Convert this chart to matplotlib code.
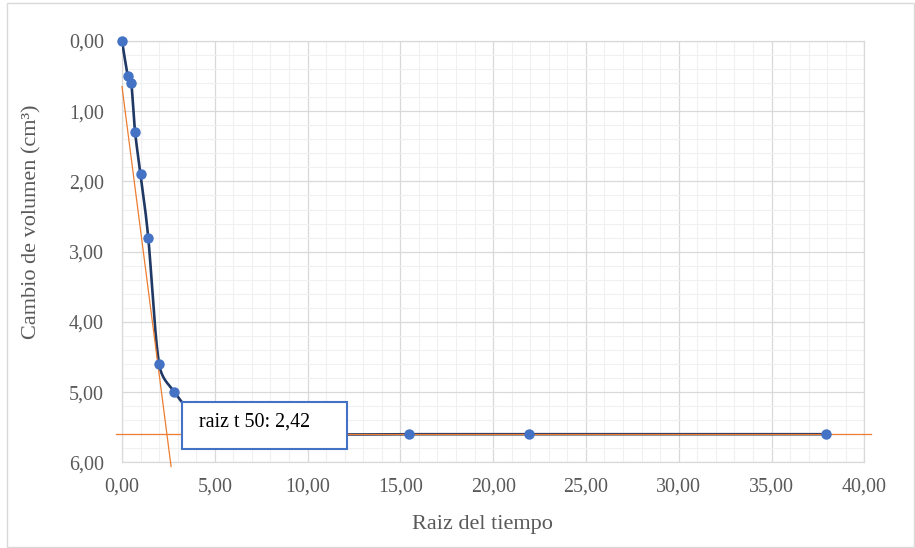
import numpy as np
import matplotlib
matplotlib.use("Agg")
import matplotlib.pyplot as plt
from matplotlib.patches import Rectangle
from matplotlib.ticker import MultipleLocator, FuncFormatter

plt.rcParams['font.family'] = ['Liberation Serif', 'DejaVu Serif']

# Square root of elapsed time (min^0.5) and measured volume change (cm³)
raiz_tiempo = [0.0, 0.316, 0.5, 0.707, 1.0, 1.414, 2.0, 2.828,
               3.873, 5.477, 7.746, 10.954, 15.49, 21.91, 37.95]
cambio_volumen = [0.0, 0.5, 0.6, 1.3, 1.9, 2.8, 4.6, 5.0,
                  5.3, 5.45, 5.55, 5.6, 5.6, 5.6, 5.6]

# Construction lines for the square-root-of-time method
raiz_t50 = 2.42          # intersection of the initial tangent with the final level
volumen_final = 5.6
volumen_inicial_tangente = 0.65

x_ticks = [0, 5, 10, 15, 20, 25, 30, 35, 40]
y_ticks = [0, 1, 2, 3, 4, 5, 6]

GRIS_TEXTO = '#595959'
AZUL_MARCA = '#4472C4'
AZUL_LINEA = '#203864'
NARANJA = '#ED7D31'


def curva_suave(ax, x, y, n=40):
    """Spreadsheet-style smoothed line: cubic Bezier segments whose control
    points follow the neighbouring points, limited to half a segment length
    (computed in display space)."""
    p = ax.transData.transform(np.column_stack([x, y]).astype(float))
    ext = np.vstack([p[0], p, p[-1]])
    t = np.linspace(0, 1, n)[:, None]
    out = []
    f = 1.0 / 6.0
    for i in range(len(p) - 1):
        p0, p1, p2, p3 = ext[i], ext[i + 1], ext[i + 2], ext[i + 3]
        d02 = np.hypot(*(p2 - p0))
        d12 = np.hypot(*(p2 - p1))
        d13 = np.hypot(*(p3 - p1))
        f1 = f if d02 * f < d12 / 2 or d02 == 0 else d12 / d02 / 2
        f2 = f if d13 * f < d12 / 2 or d13 == 0 else d12 / d13 / 2
        c1 = p1 + f1 * (p2 - p0)
        c2 = p2 - f2 * (p3 - p1)
        seg = ((1 - t) ** 3) * p1 + 3 * ((1 - t) ** 2) * t * c1 \
            + 3 * (1 - t) * t ** 2 * c2 + t ** 3 * p2
        out.append(seg if i == 0 else seg[1:])
    s = ax.transData.inverted().transform(np.vstack(out))
    return s[:, 0], s[:, 1]


fig = plt.figure(figsize=(9.15, 5.48), dpi=100)
W, H = 915, 548

# chart outline
fig.patches.append(Rectangle((6.5 / W, 1.0 / H), (913.5 - 6.5) / W, (547 - 3) / H,
                             transform=fig.transFigure, fill=False,
                             edgecolor='#D9D9D9', linewidth=1.0))

ax_l, ax_r, ax_t, ax_b = 122, 864.3, 41, 462.3
ax = fig.add_axes([ax_l / W, 1 - ax_b / H, (ax_r - ax_l) / W, (ax_b - ax_t) / H])

ax.set_xlim(0, 40)
ax.set_ylim(6, 0)

ax.xaxis.set_minor_locator(MultipleLocator(1))
ax.yaxis.set_minor_locator(MultipleLocator(0.2))
ax.set_xticks(x_ticks)
ax.set_yticks(y_ticks)

fmt = FuncFormatter(lambda v, _: f"{v:.2f}".replace('.', ','))
ax.xaxis.set_major_formatter(fmt)
ax.yaxis.set_major_formatter(fmt)

ax.grid(which='major', color='#D9D9D9', linewidth=0.9)
ax.grid(which='minor', color='#F0F0F0', linewidth=0.8)
ax.set_axisbelow(True)
for s in ax.spines.values():
    s.set_color('#D9D9D9')
    s.set_linewidth(0.9)

ax.tick_params(which='both', length=0, labelsize=14.4, labelcolor=GRIS_TEXTO)
ax.tick_params(axis='y', pad=13)
ax.tick_params(axis='x', pad=11)

# smoothed consolidation curve
xs, ys = curva_suave(ax, raiz_tiempo, cambio_volumen)
ax.plot(xs, ys, color=AZUL_LINEA, linewidth=1.9, zorder=3, solid_capstyle='round')

# initial tangent and final level
pendiente = (volumen_final - volumen_inicial_tangente) / raiz_t50
x_fin = (6.06 - volumen_inicial_tangente) / pendiente
ax.plot([0, x_fin], [volumen_inicial_tangente, volumen_inicial_tangente + pendiente * x_fin],
        color=NARANJA, linewidth=0.9, zorder=4, clip_on=False)
ax.plot([-0.31, 40.37], [volumen_final, volumen_final],
        color=NARANJA, linewidth=0.9, zorder=4, clip_on=False)

# measured points
ax.plot(raiz_tiempo, cambio_volumen, linestyle='none', marker='o', markersize=6.5,
        markerfacecolor=AZUL_MARCA, markeredgecolor=AZUL_MARCA, zorder=5, clip_on=False)

# result box
bx0 = (181.7 - ax_l) / (ax_r - ax_l)
bx1 = (347.3 - ax_l) / (ax_r - ax_l)
by0 = (ax_b - 449.3) / (ax_b - ax_t)
by1 = (ax_b - 401.7) / (ax_b - ax_t)
ax.add_patch(Rectangle((bx0, by0), bx1 - bx0, by1 - by0, transform=ax.transAxes,
                       facecolor='white', edgecolor=AZUL_MARCA, linewidth=1.5, zorder=6))
ax.text((198.7 - ax_l) / (ax_r - ax_l), (ax_b - 422) / (ax_b - ax_t),
        f"raiz t 50: {raiz_t50:.2f}".replace('.', ','), transform=ax.transAxes,
        ha='left', va='center', fontsize=14.4, color='black', zorder=7)

fig.text(32 / W, 1 - 222 / H, 'Cambio de volumen (cm³)', rotation=90,
         ha='center', va='center', fontsize=16, color=GRIS_TEXTO)
fig.text(482 / W, 1 - 525 / H, 'Raiz del tiempo',
         ha='center', va='center', fontsize=16, color=GRIS_TEXTO)

fig.savefig('out.png', dpi=100)
